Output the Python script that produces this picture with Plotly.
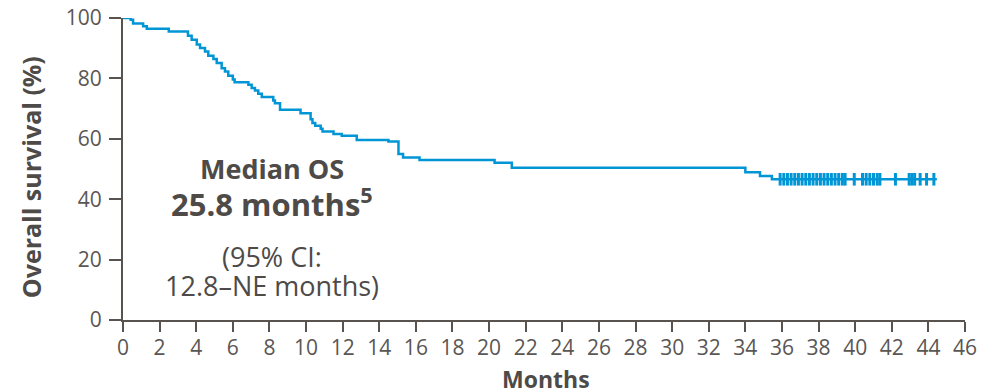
import plotly.graph_objects as go

# Kaplan-Meier step curve: event times (months) and survival (%) after each step
km_times = [0, 0.42, 0.55, 1.1, 1.3, 2.5, 3.55, 3.75, 4.03, 4.21, 4.48, 4.66, 4.94, 5.12,
            5.39, 5.57, 5.75, 6.0, 6.1, 6.85, 7.03, 7.21, 7.39, 7.58, 8.21, 8.3, 8.58,
            9.7, 10.25, 10.35, 10.5, 10.8, 10.9, 11.5, 11.95, 12.77, 14.5, 15.05, 15.3,
            16.2, 20.3, 21.24, 34.0, 34.8, 35.45, 44.46]
km_surv = [100, 99.4, 98.2, 97.3, 96.4, 95.5, 94.1, 92.8, 91.2, 90.1, 88.9, 87.5, 86.4, 85.1,
           83.4, 82.3, 80.9, 79.6, 78.7, 77.9, 76.8, 76.0, 74.9, 73.8, 72.7, 71.8, 69.6,
           68.5, 66.5, 65.2, 64.3, 63.3, 62.4, 61.6, 61.0, 59.6, 59.1, 55.0, 53.8,
           53.0, 52.1, 50.4, 48.9, 47.7, 46.6, 46.6]

# Censored observations (months) and survival level
censor_times = [35.9, 36.1, 36.3, 36.5, 36.7, 36.9, 37.1, 37.3, 37.5, 37.7, 37.9, 38.1,
                38.3, 38.5, 38.7, 38.9, 39.1, 39.3, 39.45, 39.95, 40.4, 40.6, 40.8, 41.0,
                41.2, 41.35, 42.2, 42.95, 43.1, 43.25, 43.55, 43.9, 44.3]
censor_surv = [46.6] * len(censor_times)

x_ticks = list(range(0, 47, 2))
y_ticks = [0, 20, 40, 60, 80, 100]

BLUE = "#0096d6"
AXIS = "#58534f"
TEXT = "#4d4a48"
TICK = "#5a5654"
FONT = "Open Sans"

fig = go.Figure()
fig.add_trace(go.Scatter(x=km_times, y=km_surv, mode="lines", line=dict(color=BLUE, width=2.5, shape="hv"),
                         cliponaxis=False, showlegend=False))
fig.add_trace(go.Scatter(x=censor_times, y=censor_surv, mode="markers",
                         marker=dict(symbol="line-ns", size=9, line=dict(color=BLUE, width=3)),
                         cliponaxis=False, showlegend=False))

# page body adds an 8px margin, so the figure is 8px smaller on each axis
fig.update_layout(
    width=996, height=384,
    margin=dict(l=115, r=39, t=10, b=72, autoexpand=False),
    paper_bgcolor="white", plot_bgcolor="white",
    font=dict(family=FONT, color=TEXT),
    xaxis=dict(range=[0, 46], tickvals=x_ticks, ticktext=[str(v) for v in x_ticks], automargin=False,
               showgrid=False, zeroline=False, showline=True, linecolor=AXIS, linewidth=2,
               ticks="outside", ticklen=10, tickwidth=1.5, tickcolor=AXIS, ticklabeloverflow="allow",
               tickfont=dict(size=21, color=TICK, family=FONT), ticklabelstandoff=-2),
    yaxis=dict(range=[0, 100], tickvals=y_ticks, ticktext=[str(v) for v in y_ticks], automargin=False,
               showgrid=False, zeroline=False, showline=True, linecolor=AXIS, linewidth=2,
               ticks="outside", ticklen=12, tickwidth=1.5, tickcolor=AXIS, ticklabeloverflow="allow",
               tickfont=dict(size=21, color=TICK, family=FONT), ticklabelstandoff=3),
)

# Axis titles (paper coords relative to plot area 842x302 px)
fig.add_annotation(x=-0.109, y=0.4735, xref="paper", yref="paper", text="<b>Overall survival (%)</b>",
                   textangle=-90, xanchor="center", yanchor="middle", showarrow=False,
                   font=dict(size=25, color=TEXT, family=FONT))
fig.add_annotation(x=0.5024, y=-0.194, xref="paper", yref="paper", text="<b>Months</b>",
                   xanchor="center", yanchor="middle", showarrow=False,
                   font=dict(size=23, color=TEXT, family=FONT))

# Median OS text block
fig.add_annotation(x=8.14, y=50.3, xref="x", yref="y", text="<b>Median OS</b>", showarrow=False,
                   font=dict(size=27, color=TEXT, family=FONT))
fig.add_annotation(x=8.14, y=38.9, xref="x", yref="y", text="<b>25.8 months<sup>5</sup></b>", showarrow=False,
                   font=dict(size=31, color=TEXT, family=FONT))
fig.add_annotation(x=8.14, y=20.9, xref="x", yref="y", text="(95% CI:", showarrow=False,
                   font=dict(size=27, color=TEXT, family=FONT))
fig.add_annotation(x=8.14, y=11.3, xref="x", yref="y", text="12.8–NE months)", showarrow=False,
                   font=dict(size=27, color=TEXT, family=FONT))

fig.write_html("out.html")
